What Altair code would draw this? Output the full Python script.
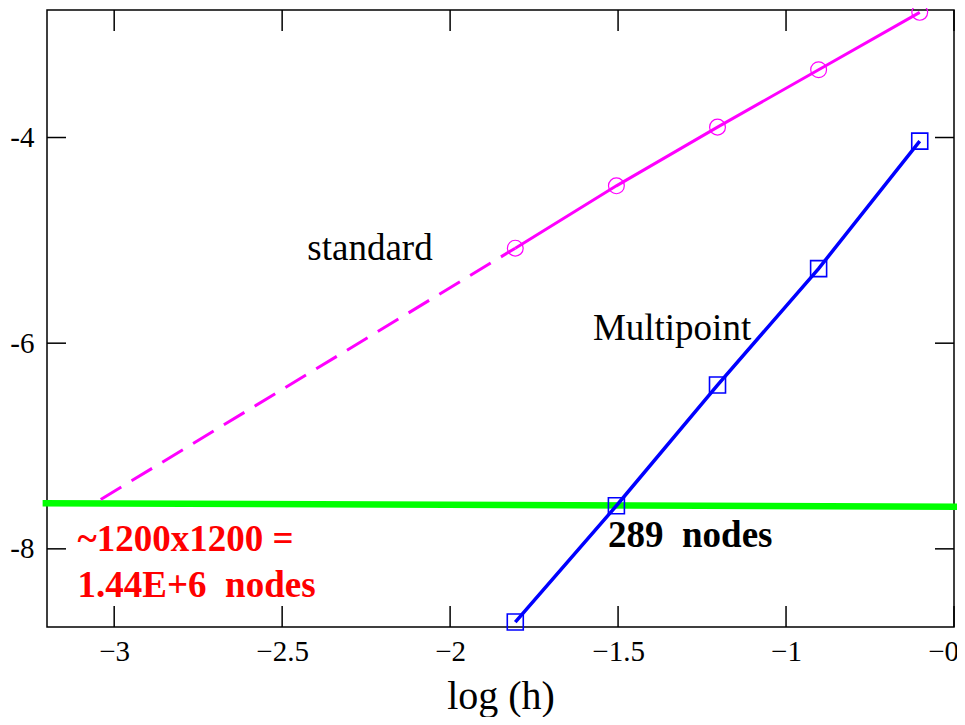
import altair as alt
import pandas as pd

# ---- data ----
log_h = [-1.806, -1.505, -1.204, -0.903, -0.602]
standard = [-5.076, -4.47, -3.899, -3.341, -2.783]
multipoint = [-8.712, -7.581, -6.407, -5.275, -4.035]

# extrapolation of the standard scheme (dashed)
extrap_x = [-1.806, -3.04]
extrap_y = [-5.076, -7.52]

# target-accuracy line (green)
target_x = [-3.213, -0.45]
target_y = [-7.556, -7.591]

x_ticks = [-3, -2.5, -2, -1.5, -1, -0.5]
y_ticks = [-4, -6, -8]

# annotations
ann_text = ["standard", "Multipoint"]
ann_x = [-2.425, -1.575]
ann_y = [-5.19, -5.969]

bold_text = ["289  nodes"]
bold_x = [-1.530]
bold_y = [-7.98]

red_text = ["~1200x1200 =", "1.44E+6  nodes"]
red_x = [-3.109, -3.109]
red_y = [-8.019, -8.467]

W, H = 907, 617
FONT = "Liberation Serif"

xs = alt.Scale(domain=[-3.2, -0.5], nice=False, zero=False)
ys = alt.Scale(domain=[-8.76, -2.76], nice=False, zero=False)

x_axis = alt.Axis(values=x_ticks, format="~g", title="log (h)", grid=False, domain=False,
                  tickSize=0, labelPadding=10, labelFontSize=29, labelFont=FONT,
                  labelColor="black", labelFlush=False, labelOverlap=False,
                  titleFont=FONT, titleFontSize=40, titleFontWeight="normal",
                  titleColor="black", titleBaseline="alphabetic", titleY=81)
y_axis = alt.Axis(values=y_ticks, format="~g", title=None, grid=False, domain=False,
                  tickSize=0, labelPadding=13, labelFontSize=29, labelFont=FONT,
                  labelColor="black", labelFlush=False, labelOverlap=False,
                  labelExpr="replace(datum.label, '\u2212', '-')")


def X(f="x"):
    return alt.X(f + ":Q", scale=xs, axis=x_axis)


def Y(f="y"):
    return alt.Y(f + ":Q", scale=ys, axis=y_axis)


def nb(s):
    return s.replace("  ", "\u00a0\u00a0")


std_df = pd.DataFrame({"x": log_h, "y": standard})
mp_df = pd.DataFrame({"x": log_h, "y": multipoint})
ext_df = pd.DataFrame({"x": extrap_x, "y": extrap_y})
tgt_df = pd.DataFrame({"x": target_x, "y": target_y})
xt_df = pd.DataFrame({"x": x_ticks})
yt_df = pd.DataFrame({"y": y_ticks})
ann_df = pd.DataFrame({"x": ann_x, "y": ann_y, "t": ann_text})
bold_df = pd.DataFrame({"x": bold_x, "y": bold_y, "t": [nb(s) for s in bold_text]})
red_df = pd.DataFrame({"x": red_x, "y": red_y, "t": [nb(s) for s in red_text]})

green = alt.Chart(tgt_df).mark_line(color="#00FF00", strokeWidth=6.5, clip=False).encode(
    x=X(), y=Y())

std_line = alt.Chart(std_df).mark_line(color="#FF00FF", strokeWidth=3).encode(x=X(), y=Y())
std_pts = alt.Chart(std_df).mark_point(shape="circle", size=250, color="#FF00FF",
                                        strokeWidth=1.2, filled=False, opacity=1).encode(x=X(), y=Y())
ext_line = alt.Chart(ext_df).mark_line(color="#FF00FF", strokeWidth=3,
                                        strokeDash=[24, 12]).encode(x=X(), y=Y())

mp_line = alt.Chart(mp_df).mark_line(color="#0000FF", strokeWidth=3.5).encode(x=X(), y=Y())
mp_pts = alt.Chart(mp_df).mark_point(shape="square", size=256, color="#0000FF",
                                      strokeWidth=1.6, filled=False, opacity=1).encode(x=X(), y=Y())

tick_style = dict(color="black", strokeWidth=1.5)
bt = alt.Chart(xt_df).mark_rule(**tick_style).encode(x=X(), y=alt.value(H), y2=alt.value(H - 21))
tt = alt.Chart(xt_df).mark_rule(**tick_style).encode(x=X(), y=alt.value(0), y2=alt.value(21))
lt = alt.Chart(yt_df).mark_rule(**tick_style).encode(y=Y(), x=alt.value(0), x2=alt.value(19))
rt = alt.Chart(yt_df).mark_rule(**tick_style).encode(y=Y(), x=alt.value(W), x2=alt.value(W - 19))

ann = alt.Chart(ann_df).mark_text(font=FONT, fontSize=37, color="black", align="left",
                                  baseline="alphabetic").encode(x=X(), y=Y(), text="t:N")
bold = alt.Chart(bold_df).mark_text(font=FONT, fontSize=37, fontWeight="bold", color="black",
                                    align="left", baseline="alphabetic").encode(x=X(), y=Y(), text="t:N")
red = alt.Chart(red_df).mark_text(font=FONT, fontSize=37, fontWeight="bold", color="#FF0000",
                                  align="left", baseline="alphabetic").encode(x=X(), y=Y(), text="t:N")

chart = alt.layer(
    green, ext_line, std_line, std_pts, mp_line, mp_pts, bt, tt, lt, rt, ann, bold, red
).properties(
    width=W, height=H,
    autosize=alt.AutoSizeParams(type="none"),
    padding={"left": 39, "top": 2, "right": 3, "bottom": 90},
    background="white",
).configure(
    font=FONT
).configure_view(
    stroke="black", strokeWidth=1.5
)

chart.save("out.html", embed_options={"renderer": "svg", "actions": False})
